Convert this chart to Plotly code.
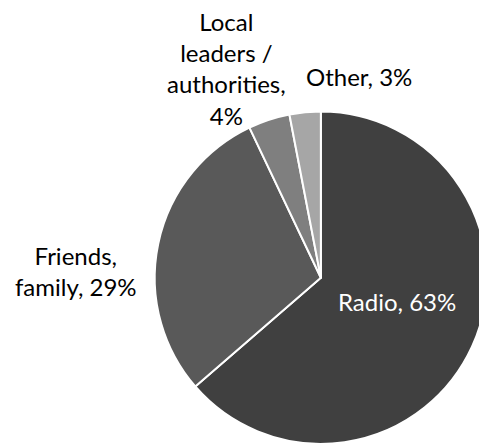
import plotly.graph_objects as go

FONT_FAMILY = "Lato, Open Sans, sans-serif"

# data, clockwise from 12 o'clock
labels = ["Radio", "Friends, family", "Local leaders / authorities", "Other"]
label_text = ["Radio,", "Friends,<br>family,", "Local<br>leaders /<br>authorities,<br>", "Other,"]
values = [63, 29, 4, 3]
colors = ["#404040", "#595959", "#7f7f7f", "#a6a6a6"]

# label placement (paper fractions) and colours
label_pos = [(0.812, 0.329), (0.142, 0.3995), (0.457, 0.862), (0.733, 0.8425)]
label_colors = ["#ffffff", "#000000", "#000000", "#000000"]

# page has an 8px body margin, so the figure is a bit smaller than the window
W, H = 479, 438

fig = go.Figure(
    go.Pie(
        labels=labels,
        values=values,
        sort=False,
        direction="clockwise",
        rotation=0,
        marker=dict(colors=colors, line=dict(color="#ffffff", width=2)),
        textinfo="none",
        hoverinfo="label+percent",
        domain=dict(x=[0.3063, 1.0], y=[0.0007, 0.7678]),
    )
)

for text, val, (x, y), col in zip(label_text, values, label_pos, label_colors):
    sep = "" if text.endswith("<br>") else " "
    fig.add_annotation(
        text=f"{text}{sep}{val}%",
        x=x,
        y=y,
        xref="paper",
        yref="paper",
        xanchor="center",
        yanchor="middle",
        showarrow=False,
        align="center",
        font=dict(family=FONT_FAMILY, size=24, color=col),
    )

fig.update_layout(
    width=W,
    height=H,
    margin=dict(l=0, r=0, t=0, b=0),
    paper_bgcolor="#ffffff",
    plot_bgcolor="#ffffff",
    showlegend=False,
    font=dict(family=FONT_FAMILY, size=24, color="#000000"),
)

fig.write_html("out.html")
